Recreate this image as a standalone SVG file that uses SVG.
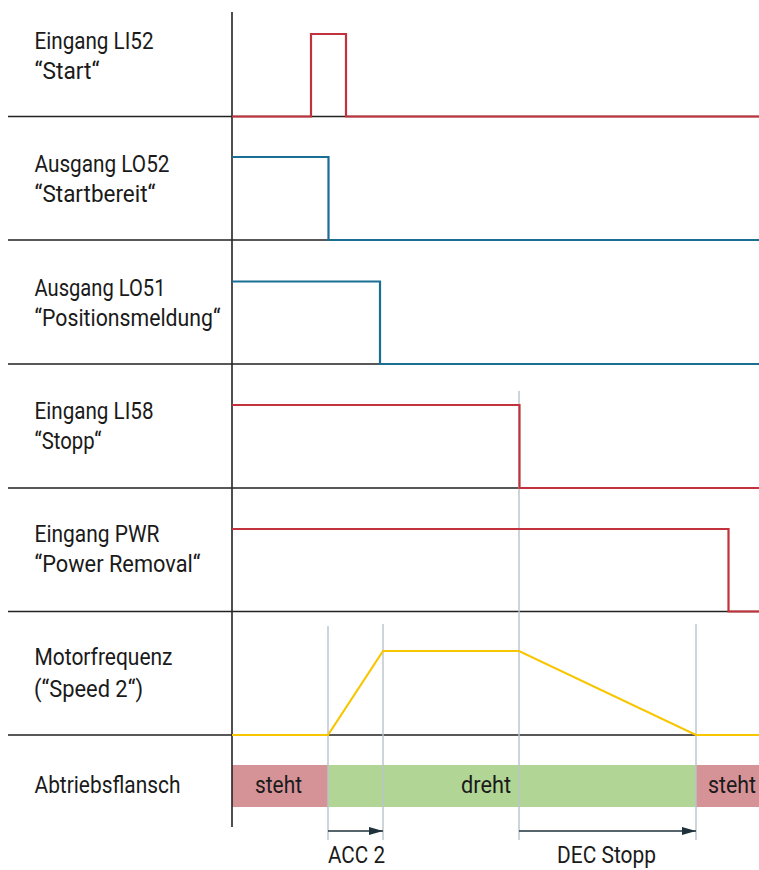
<svg xmlns="http://www.w3.org/2000/svg" width="759" height="870" viewBox="0 0 759 870">
<style>
text{font-family:Roboto,"Liberation Sans",sans-serif;font-size:23px;fill:#1a1a1a}
.base{stroke:#222;stroke-width:1.6;fill:none}
.guide{stroke:#b8c4cc;stroke-width:1.4;fill:none}
.red{stroke:#c1323c;stroke-width:2.2;fill:none}
.blue{stroke:#1a6e93;stroke-width:2.2;fill:none}
.yel{stroke:#f8c600;stroke-width:2.2;fill:none}
.arr{stroke:#1f323c;stroke-width:1.6;fill:none}
</style>
<defs>
<marker id="ah" markerWidth="14" markerHeight="8" refX="14" refY="4" orient="auto" markerUnits="userSpaceOnUse">
<path d="M0,0 L14,4 L0,8 Z" fill="#1f323c"/>
</marker>
</defs>
<rect width="759" height="870" fill="#fff"/>
<g id="bars">
<rect x="232" y="765" width="96" height="42" fill="#d69397"/>
<rect x="328" y="765" width="368" height="42" fill="#b1d595"/>
<rect x="696" y="765" width="63" height="42" fill="#d69397"/>
<text x="255" y="793" textLength="47" lengthAdjust="spacingAndGlyphs">steht</text>
<text x="461" y="793" textLength="50" lengthAdjust="spacingAndGlyphs">dreht</text>
<text x="708" y="793" textLength="48" lengthAdjust="spacingAndGlyphs">steht</text>
</g>
<g id="grid">
<path class="base" d="M8,116.5H759M8,240H759M8,364H759M8,488H759M8,611.5H759M8,735H759"/>
<path class="base" d="M232,12V827"/>
</g>
<g id="connectors">
<path class="guide" d="M328,626V840M383,624V840M519,391V840M696,624V840"/>
<path class="arr" d="M328,831H383" marker-end="url(#ah)"/>
<path class="arr" d="M519,831H696" marker-end="url(#ah)"/>
</g>
<g id="sig-li52">
<path class="red" d="M232,116.5H311V34H346V116.5H759"/>
<text x="34.5" y="49" textLength="119" lengthAdjust="spacingAndGlyphs">Eingang LI52</text>
<text x="34.5" y="79" textLength="65" lengthAdjust="spacingAndGlyphs">“Start“</text>
</g>
<g id="sig-lo52">
<path class="blue" d="M232,157H328.5V240H759"/>
<text x="34.5" y="172" textLength="135" lengthAdjust="spacingAndGlyphs">Ausgang LO52</text>
<text x="34.5" y="202" textLength="121" lengthAdjust="spacingAndGlyphs">“Startbereit“</text>
</g>
<g id="sig-lo51">
<path class="blue" d="M232,281.5H380V364H759"/>
<text x="34.5" y="296" textLength="131" lengthAdjust="spacingAndGlyphs">Ausgang LO51</text>
<text x="34.5" y="326" textLength="186" lengthAdjust="spacingAndGlyphs">“Positionsmeldung“</text>
</g>
<g id="sig-li58">
<path class="red" d="M232,405H519.5V488H759"/>
<text x="34.5" y="418.5" textLength="119" lengthAdjust="spacingAndGlyphs">Eingang LI58</text>
<text x="34.5" y="448.5" textLength="67" lengthAdjust="spacingAndGlyphs">“Stopp“</text>
</g>
<g id="sig-pwr">
<path class="red" d="M232,529H728.5V611.5H759"/>
<text x="34.5" y="542" textLength="125" lengthAdjust="spacingAndGlyphs">Eingang PWR</text>
<text x="34.5" y="572" textLength="166" lengthAdjust="spacingAndGlyphs">“Power Removal“</text>
</g>
<g id="sig-motor">
<path class="yel" d="M232,735H328L383,651H519L696,735H759"/>
<text x="34.5" y="665" textLength="138" lengthAdjust="spacingAndGlyphs">Motorfrequenz</text>
<text x="34" y="696.5" textLength="109" lengthAdjust="spacingAndGlyphs">(“Speed 2“)</text>
</g>
<g id="label-flansch">
<text x="34.5" y="793" textLength="146" lengthAdjust="spacingAndGlyphs">Abtriebsflansch</text>
</g>
<g id="labels-time">
<text x="328" y="863" textLength="57" lengthAdjust="spacingAndGlyphs">ACC 2</text>
<text x="557" y="863" textLength="99" lengthAdjust="spacingAndGlyphs">DEC Stopp</text>
</g>
</svg>
